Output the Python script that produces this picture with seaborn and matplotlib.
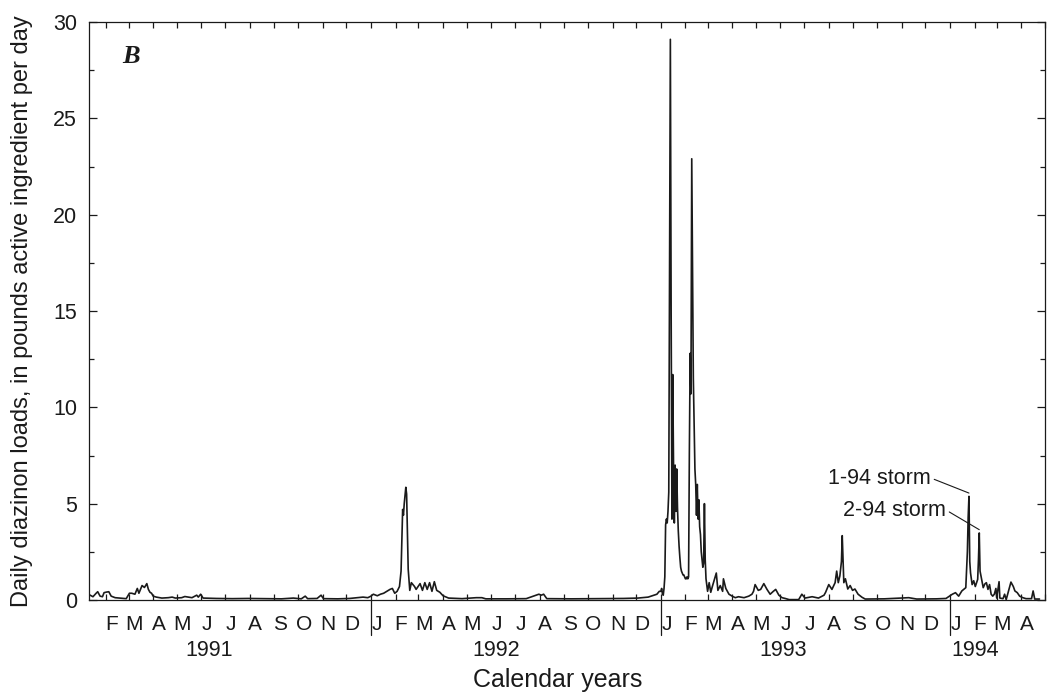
import matplotlib
matplotlib.use("Agg")
import matplotlib.pyplot as plt
import matplotlib.dates as mdates
import matplotlib.transforms as mtransforms
from matplotlib.ticker import MultipleLocator, FuncFormatter, NullFormatter
import pandas as pd
import seaborn as sns

# daily diazinon load, pounds a.i. per day (vertices)
DATES = [
    "1991-01-10", "1991-01-11", "1991-01-15", "1991-01-19", "1991-01-21", "1991-01-24",
    "1991-01-27", "1991-01-29", "1991-02-01", "1991-02-04", "1991-02-07", "1991-02-12",
    "1991-02-20", "1991-02-26", "1991-03-02", "1991-03-05", "1991-03-09", "1991-03-12",
    "1991-03-14", "1991-03-18", "1991-03-21", "1991-03-24", "1991-03-26", "1991-03-28",
    "1991-03-30", "1991-04-01", "1991-04-05", "1991-04-12", "1991-04-20", "1991-04-25",
    "1991-04-29", "1991-05-07", "1991-05-11", "1991-05-20", "1991-05-26", "1991-05-28",
    "1991-05-31", "1991-06-03", "1991-06-20", "1991-07-10", "1991-07-30", "1991-08-20",
    "1991-09-10", "1991-09-25", "1991-10-05", "1991-10-10", "1991-10-13", "1991-10-25",
    "1991-10-30", "1991-11-02", "1991-11-20", "1991-12-05", "1991-12-15", "1991-12-22",
    "1991-12-28",
    "1992-01-01", "1992-01-04", "1992-01-09", "1992-01-13", "1992-01-17", "1992-01-21",
    "1992-01-25", "1992-01-28", "1992-01-31", "1992-02-03", "1992-02-06", "1992-02-08",
    "1992-02-10", "1992-02-11", "1992-02-12", "1992-02-14", "1992-02-15", "1992-02-16",
    "1992-02-17", "1992-02-19", "1992-02-21", "1992-02-25", "1992-02-27", "1992-03-03",
    "1992-03-06", "1992-03-09", "1992-03-12", "1992-03-15", "1992-03-18", "1992-03-21",
    "1992-03-24", "1992-03-28", "1992-04-01", "1992-04-08", "1992-04-25", "1992-05-13",
    "1992-05-20", "1992-05-25", "1992-06-20", "1992-07-15", "1992-07-31", "1992-08-03",
    "1992-08-06", "1992-08-10", "1992-09-10", "1992-10-15", "1992-11-15", "1992-12-03",
    "1992-12-16", "1992-12-27", "1992-12-30",
    "1993-01-01", "1993-01-02", "1993-01-03", "1993-01-04", "1993-01-05", "1993-01-06",
    "1993-01-07", "1993-01-08", "1993-01-09", "1993-01-10", "1993-01-11", "1993-01-12",
    "1993-01-13", "1993-01-14", "1993-01-15", "1993-01-16", "1993-01-17", "1993-01-18",
    "1993-01-19", "1993-01-20", "1993-01-21", "1993-01-22", "1993-01-23", "1993-01-24",
    "1993-01-25", "1993-01-26", "1993-01-27", "1993-01-28", "1993-01-29", "1993-01-30",
    "1993-01-31", "1993-02-01", "1993-02-02", "1993-02-03", "1993-02-04", "1993-02-05",
    "1993-02-06", "1993-02-07", "1993-02-08", "1993-02-09", "1993-02-10", "1993-02-11",
    "1993-02-12", "1993-02-13", "1993-02-14", "1993-02-15", "1993-02-16", "1993-02-17",
    "1993-02-18", "1993-02-19", "1993-02-20", "1993-02-21", "1993-02-22", "1993-02-23",
    "1993-02-24", "1993-02-25", "1993-02-26", "1993-02-27", "1993-03-01", "1993-03-03",
    "1993-03-05", "1993-03-07", "1993-03-12", "1993-03-14", "1993-03-17", "1993-03-20",
    "1993-03-21", "1993-03-24", "1993-03-28", "1993-04-01", "1993-04-05", "1993-04-09",
    "1993-04-16", "1993-04-22", "1993-04-26", "1993-04-28", "1993-04-30", "1993-05-04",
    "1993-05-07", "1993-05-11", "1993-05-15", "1993-05-19", "1993-05-23", "1993-05-26",
    "1993-05-30", "1993-06-03", "1993-06-07", "1993-06-12", "1993-06-24", "1993-06-28",
    "1993-07-02", "1993-07-11", "1993-07-19", "1993-07-26", "1993-07-28", "1993-08-01",
    "1993-08-05", "1993-08-09", "1993-08-11", "1993-08-13", "1993-08-15", "1993-08-17",
    "1993-08-18", "1993-08-20", "1993-08-22", "1993-08-25", "1993-08-28", "1993-08-31",
    "1993-09-03", "1993-09-07", "1993-09-12", "1993-09-16", "1993-10-10", "1993-11-10",
    "1993-11-20", "1993-12-15", "1993-12-27",
    "1994-01-04", "1994-01-08", "1994-01-12", "1994-01-16", "1994-01-21", "1994-01-23",
    "1994-01-24", "1994-01-25", "1994-01-26", "1994-01-27", "1994-01-29", "1994-01-31",
    "1994-02-02", "1994-02-05", "1994-02-06", "1994-02-07", "1994-02-08", "1994-02-10",
    "1994-02-12", "1994-02-14", "1994-02-16", "1994-02-18", "1994-02-20", "1994-02-22",
    "1994-02-24", "1994-02-26", "1994-02-28", "1994-03-01", "1994-03-04", "1994-03-05",
    "1994-03-09", "1994-03-11", "1994-03-13", "1994-03-19", "1994-03-22", "1994-03-24",
    "1994-03-27", "1994-03-30", "1994-04-03", "1994-04-07", "1994-04-14", "1994-04-16",
    "1994-04-18", "1994-04-24",
]
LOADS = [
    0.25, 0.26, 0.17, 0.35, 0.43, 0.20,
    0.17, 0.38, 0.41, 0.43, 0.20, 0.12,
    0.09, 0.07, 0.35, 0.35, 0.30, 0.60,
    0.35, 0.75, 0.65, 0.85, 0.55, 0.40,
    0.35, 0.20, 0.15, 0.10, 0.12, 0.15,
    0.10, 0.12, 0.18, 0.12, 0.25, 0.15,
    0.30, 0.10, 0.08, 0.07, 0.08, 0.07,
    0.06, 0.10, 0.06, 0.20, 0.07, 0.08,
    0.25, 0.07, 0.06, 0.08, 0.12, 0.15,
    0.12,
    0.20, 0.30, 0.22, 0.30, 0.35, 0.45,
    0.55, 0.60, 0.35, 0.45, 0.70, 1.50,
    4.70, 4.40, 5.00, 5.85, 5.50, 3.50,
    1.60, 0.50, 0.90, 0.70, 0.55, 0.85,
    0.50, 0.90, 0.55, 0.90, 0.45, 0.95,
    0.50, 0.40, 0.22, 0.10, 0.07, 0.12,
    0.12, 0.06, 0.06, 0.07, 0.30, 0.25,
    0.30, 0.07, 0.06, 0.07, 0.08, 0.10,
    0.15, 0.30, 0.45,
    0.45, 0.60, 0.30, 0.25, 0.60, 1.20,
    3.90, 4.20, 4.00, 4.60, 5.60, 16.8,
    29.1, 14.8, 4.20, 11.7, 7.00, 4.00,
    7.00, 4.60, 6.80, 4.80, 3.60, 2.80,
    2.20, 1.70, 1.50, 1.40, 1.30, 1.30,
    1.20, 1.10, 1.10, 1.20, 1.10, 1.20,
    7.70, 12.8, 10.7, 22.9, 16.8, 11.5,
    9.10, 6.80, 6.00, 4.40, 6.00, 4.20,
    5.20, 3.80, 3.40, 2.50, 2.10, 1.70,
    1.90, 5.00, 2.10, 1.10, 0.45, 0.90,
    0.40, 0.70, 1.40, 0.50, 0.75, 0.45,
    1.10, 0.60, 0.30, 0.20, 0.12, 0.17,
    0.12, 0.20, 0.30, 0.45, 0.80, 0.50,
    0.55, 0.85, 0.55, 0.30, 0.45, 0.55,
    0.25, 0.12, 0.08, 0.02, 0.02, 0.30,
    0.10, 0.17, 0.10, 0.25, 0.40, 0.80,
    0.55, 0.90, 1.50, 0.90, 1.25, 2.00,
    3.34, 0.90, 1.10, 0.57, 0.75, 0.50,
    0.57, 0.30, 0.14, 0.05, 0.06, 0.12,
    0.05, 0.06, 0.08,
    0.30, 0.38, 0.20, 0.47, 0.64, 2.50,
    4.30, 5.38, 2.00, 1.40, 0.80, 1.00,
    0.70, 1.07, 2.10, 3.48, 1.50, 1.07,
    0.64, 0.83, 0.90, 0.55, 0.80, 0.30,
    0.20, 0.30, 0.60, 0.10, 0.95, 0.10,
    0.07, 0.30, 0.02, 0.93, 0.70, 0.47,
    0.38, 0.20, 0.12, 0.07, 0.07, 0.47,
    0.05, 0.05,
]

MONTH_LETTERS = "JFMAMJJASOND"
YEAR_LABELS = ["1991", "1992", "1993", "1994"]
YEAR_LABEL_DATES = ["1991-06-11", "1992-06-07", "1993-06-04", "1994-02-02"]
YEAR_BREAKS = ["1992-01-01", "1993-01-01", "1994-01-01"]
X_START, X_END = "1991-01-10", "1994-05-01"

INK = "#1a1a1a"


def dnum(s):
    return mdates.date2num(pd.Timestamp(s))


def main():
    sns.set_theme(style="ticks")
    plt.rcParams["font.family"] = ["Liberation Sans", "DejaVu Sans"]
    plt.rcParams["text.color"] = INK
    plt.rcParams["axes.labelcolor"] = INK
    plt.rcParams["xtick.color"] = INK
    plt.rcParams["ytick.color"] = INK
    plt.rcParams["axes.edgecolor"] = INK

    df = pd.DataFrame({"date": pd.to_datetime(DATES), "load": LOADS})

    fig = plt.figure(figsize=(10.48, 7.0), dpi=100)
    ax = fig.add_axes([89 / 1048, 100 / 700, 956 / 1048, 578 / 700])
    sns.lineplot(data=df, x="date", y="load", ax=ax, color=INK,
                 linewidth=1.2, estimator=None)

    for sp in ax.spines.values():
        sp.set_linewidth(0.9)

    # month ticks (inside, top and bottom); letters on minor ticks
    ax.xaxis.set_major_locator(mdates.MonthLocator())
    ax.xaxis.set_major_formatter(NullFormatter())
    ax.xaxis.set_minor_locator(mdates.MonthLocator(bymonthday=8))
    ax.xaxis.set_minor_formatter(
        FuncFormatter(lambda v, pos: MONTH_LETTERS[mdates.num2date(v).month - 1]))
    ax.tick_params(axis="x", which="major", direction="in", length=4.5, width=0.9,
                   top=True, bottom=True)
    ax.tick_params(axis="x", which="minor", length=0, pad=11, labelsize=15,
                   top=False)

    ax.yaxis.set_major_locator(MultipleLocator(5))
    ax.yaxis.set_minor_locator(MultipleLocator(2.5))
    ax.tick_params(axis="y", which="both", direction="in", left=True, right=True,
                   width=0.9)
    ax.tick_params(axis="y", which="major", length=5.5, labelsize=15.5, pad=8.5)
    ax.tick_params(axis="y", which="minor", length=3.5)

    trans = mtransforms.blended_transform_factory(ax.transData, ax.transAxes)
    for d in YEAR_BREAKS:
        ax.plot([dnum(d), dnum(d)], [0, -0.06], transform=trans, color=INK,
                lw=0.9, clip_on=False)
    for lab, d in zip(YEAR_LABELS, YEAR_LABEL_DATES):
        ax.text(dnum(d), -0.087, lab, transform=trans, ha="center", va="center",
                fontsize=15.5)

    ax.text(0.0345, 0.941, "B", transform=ax.transAxes, fontsize=19,
            fontweight="bold", fontstyle="italic",
            family=["Liberation Serif", "DejaVu Serif"], ha="left", va="center")

    ax.annotate("1-94 storm", xy=(dnum("1994-01-25"), 5.55),
                xytext=(dnum("1993-12-08"), 6.33), ha="right", va="center",
                fontsize=15.5,
                arrowprops=dict(arrowstyle="-", color=INK, lw=0.8, shrinkA=0,
                                shrinkB=0, relpos=(1, 0.5)))
    ax.annotate("2-94 storm", xy=(dnum("1994-02-07"), 3.65),
                xytext=(dnum("1993-12-27"), 4.67), ha="right", va="center",
                fontsize=15.5,
                arrowprops=dict(arrowstyle="-", color=INK, lw=0.8, shrinkA=0,
                                shrinkB=0, relpos=(1, 0.5)))

    ax.set_xlabel("Calendar years", fontsize=18)
    ax.xaxis.set_label_coords(0.49, -0.118)
    ax.set_ylabel("Daily diazinon loads, in pounds active ingredient per day",
                  fontsize=17)
    ax.yaxis.set_label_coords(-0.0586, 0.5)

    ax.set_xlim(dnum(X_START), dnum(X_END))
    ax.set_ylim(0, 30)

    fig.savefig("out.png", dpi=100, facecolor="white")
    plt.close(fig)


if __name__ == "__main__":
    main()
